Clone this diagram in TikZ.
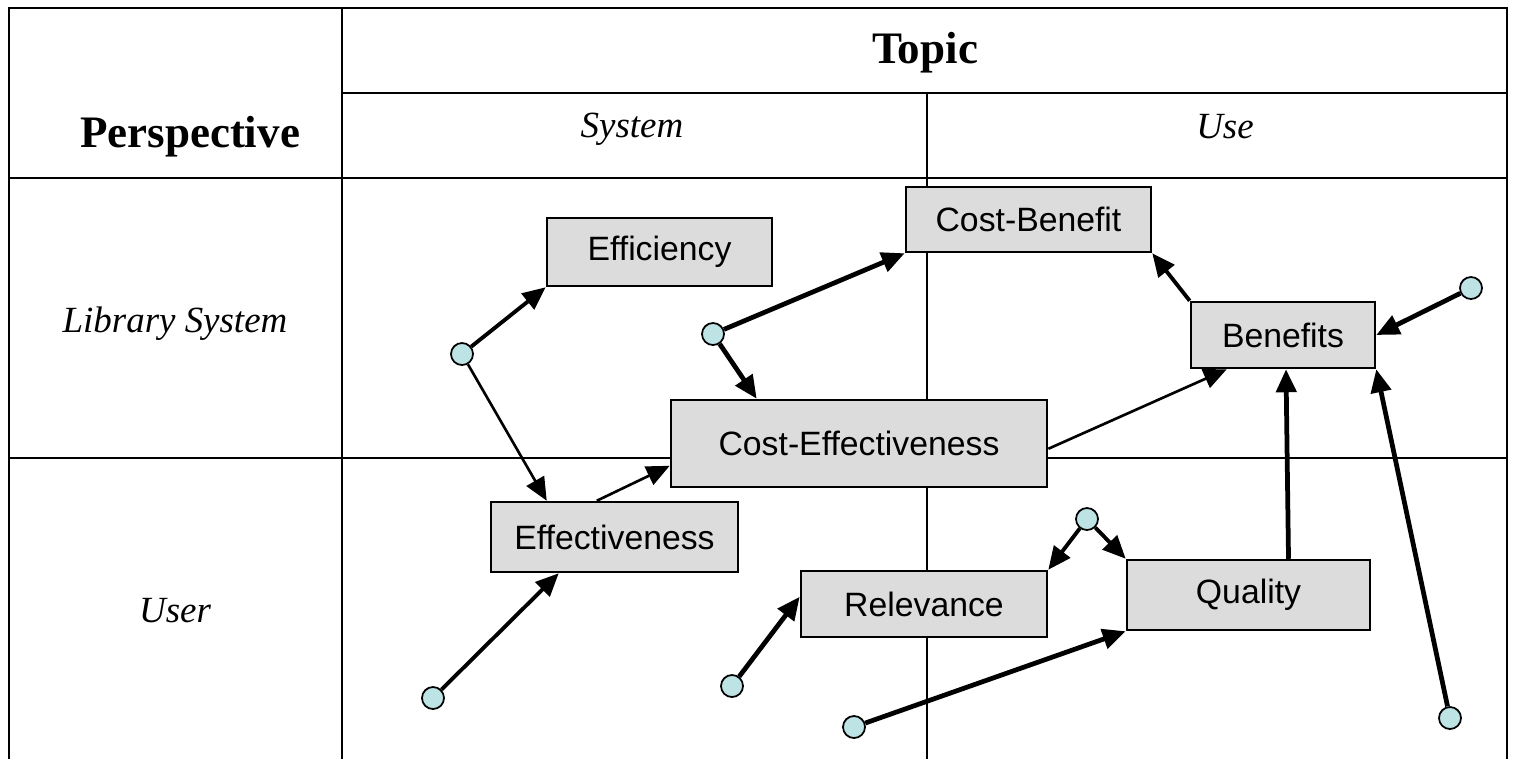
\documentclass[tikz,border=0pt]{standalone}
\usepackage{fontspec}
\setmainfont{Liberation Serif}
\newfontfamily\boxfont{Liberation Sans}
\usetikzlibrary{arrows.meta}
\definecolor{boxgray}{RGB}{220,220,220}
\definecolor{dotcyan}{RGB}{190,227,229}
\begin{document}
\begin{tikzpicture}[x=0.01cm,y=-0.01cm,
  box/.style={draw=black,line width=0.7pt,fill=boxgray,inner sep=0pt,font=\boxfont\fontsize{9.6}{11}\selectfont},
  dot/.style={circle,draw=black,line width=0.5pt,fill=dotcyan,minimum size=0.22cm,inner sep=0pt},
  arr/.style={-{Triangle[length=0.23cm,width=0.2cm]},line width=1.1pt},
  thinarr/.style={arr,line width=0.75pt},
  thickarr/.style={arr,line width=1.35pt},
  grid/.style={line width=0.6pt},
  hdr/.style={font=\bfseries\fontsize{12.8}{14}\selectfont,anchor=base,inner sep=0pt},
  lab/.style={font=\itshape\fontsize{10.5}{12}\selectfont,anchor=base,inner sep=0pt}]
\useasboundingbox (0,0) rectangle (1514,759);
% table
\draw[grid] (9,759) -- (9,8) -- (1507,8) -- (1507,759);
\draw[grid] (342,8) -- (342,759);
\draw[grid] (342,93) -- (1507,93);
\draw[grid] (9,178) -- (1507,178);
\draw[grid] (9,458) -- (1507,458);
\draw[grid] (927,93) -- (927,759);
% headers
\node[hdr] (topic) at (925,63) {Topic};
\node[hdr] (persp) at (190,147) {Perspective};
\node[lab] (sys) at (632,137) {System};
\node[lab] (use) at (1225,138) {Use};
\node[lab] (libsys) at (175,332) {Library System};
\node[lab] (user) at (175,622) {User};
% boxes
\node[box,minimum width=2.25cm,minimum height=0.68cm] (eff) at (659.5,252) {Efficiency};
\node[box,minimum width=2.45cm,minimum height=0.65cm] (cb) at (1028.5,219.5) {Cost-Benefit};
\node[box,minimum width=3.76cm,minimum height=0.87cm] (ce) at (859,443.5) {Cost-Effectiveness};
\node[box,minimum width=1.84cm,minimum height=0.66cm] (ben) at (1283,335) {Benefits};
\node[box,minimum width=2.47cm,minimum height=0.70cm] (effv) at (614.5,537) {Effectiveness};
\node[box,minimum width=2.46cm,minimum height=0.66cm] (rel) at (924,604) {Relevance};
\node[box,minimum width=2.43cm,minimum height=0.70cm] (qual) at (1248.5,595) {Quality};
% dots
\node[dot] (c1) at (462,354) {};
\node[dot] (c2) at (713,334) {};
\node[dot] (c3) at (1471,288) {};
\node[dot] (c4) at (433,698) {};
\node[dot] (c5) at (732,686) {};
\node[dot] (c6) at (854,727) {};
\node[dot] (c7) at (1087,519) {};
\node[dot] (c8) at (1450,718) {};
% connectors
\draw[arr] (c1) -- (eff.south west);
\draw[thinarr] (c1) -- ([xshift=0.57cm]effv.north west);
\draw[thinarr] ([xshift=1.07cm]effv.north west) -- ([yshift=-0.67cm]ce.north west);
\draw[thickarr] (c2) -- (cb.south west);
\draw[thickarr] (c2) -- ([xshift=0.87cm]ce.north west);
\draw[thinarr] ([yshift=-0.5cm]ce.north east) -- ([xshift=0.37cm]ben.south west);
\draw[arr] (ben.north west) -- (cb.south east);
\draw[thickarr] (c3) -- (ben.east);
\draw[thickarr] ([xshift=0.4cm]qual.north) -- ([xshift=0.03cm]ben.south);
\draw[thickarr] (c8) -- (ben.south east);
\draw[arr] (c4) -- ([xshift=0.69cm]effv.south west);
\draw[thickarr] (c5) -- ([yshift=-0.27cm]rel.north west);
\draw[thickarr] (c6) -- (qual.south west);
\draw[arr] (c7) -- (rel.north east);
\draw[arr] (c7) -- (qual.north west);
\end{tikzpicture}
\end{document}
